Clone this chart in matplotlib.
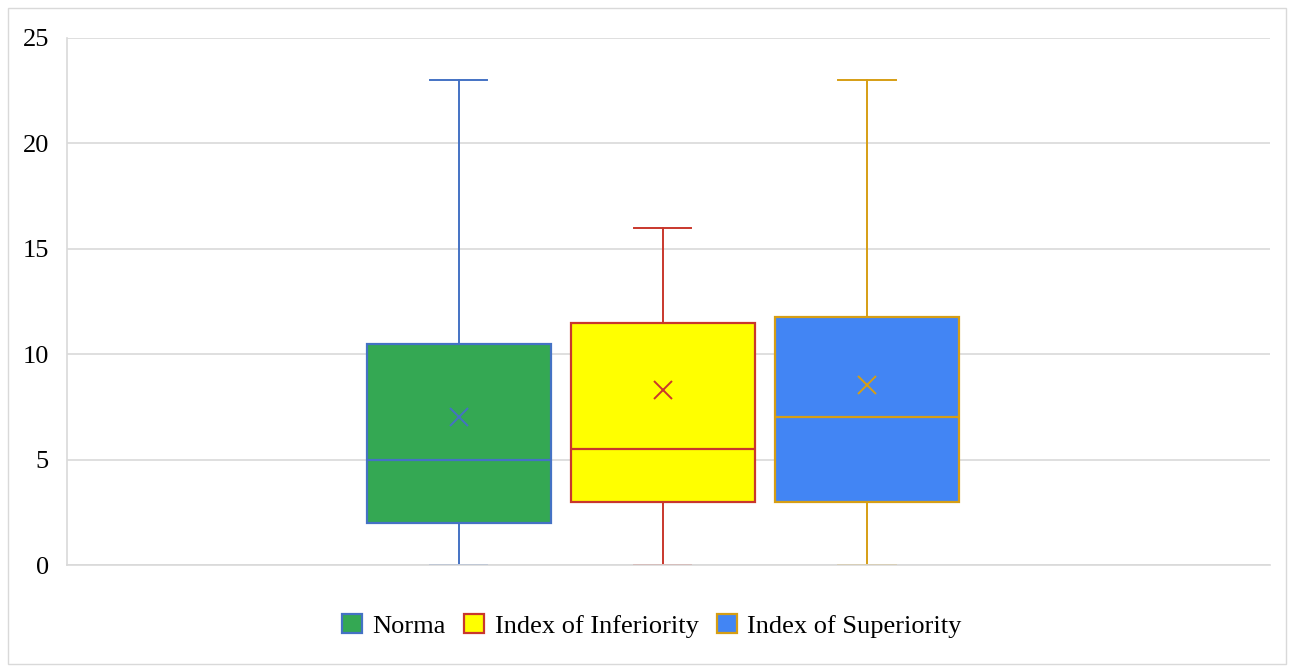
import matplotlib
matplotlib.use("Agg")
import matplotlib.pyplot as plt
from matplotlib.patches import Rectangle, Patch

plt.rcParams['font.family'] = ['Liberation Serif', 'DejaVu Serif']

# data
series = ['Norma', 'Index of Inferiority', 'Index of Superiority']
mins = [0, 0, 0]
q1s = [2, 3, 3]
medians = [5, 5.5, 7]
q3s = [10.5, 11.5, 11.75]
maxs = [23, 16, 23]
means = [7.0, 8.3, 8.55]

fills = ['#34a853', '#ffff00', '#4285f4']
edges = ['#4472c4', '#c9372c', '#d69e14']

yticks = [0, 5, 10, 15, 20, 25]

fig = plt.figure(figsize=(12.9, 6.68), dpi=100)
fig.patches.append(Rectangle((8 / 1290, 4 / 668), 1278 / 1290, 656 / 668,
                             transform=fig.transFigure, fill=False,
                             edgecolor='#d9d9d9', linewidth=1))
ax = fig.add_axes([67 / 1290, 103 / 668, 1203 / 1290, 527 / 668])

positions = [-1, 0, 1]
for i in range(len(series)):
    st = [dict(label=series[i], whislo=mins[i], q1=q1s[i], med=medians[i],
               q3=q3s[i], whishi=maxs[i], mean=means[i], fliers=[])]
    ax.bxp(st, positions=[positions[i]], widths=0.9, capwidths=0.28,
           patch_artist=True, showmeans=True, manage_ticks=False,
           boxprops=dict(facecolor=fills[i], edgecolor=edges[i], linewidth=1.6),
           medianprops=dict(color=edges[i], linewidth=1.6),
           whiskerprops=dict(color=edges[i], linewidth=1.4),
           capprops=dict(color=edges[i], linewidth=1.4),
           meanprops=dict(marker='x', markeredgecolor=edges[i],
                          markersize=13, markeredgewidth=1.4))

ax.set_xlim(-2.92, 2.975)
ax.set_ylim(0, 25)
ax.set_yticks(yticks)
ax.set_xticks([])
ax.tick_params(axis='y', length=0, labelsize=19, pad=13)
ax.grid(axis='y', color='#d9d9d9', linewidth=1.2)
ax.set_axisbelow(True)
for s in ['top', 'right']:
    ax.spines[s].set_visible(False)
for s in ['left', 'bottom']:
    ax.spines[s].set_color('#d9d9d9')
    ax.spines[s].set_linewidth(1.2)

handles = [Patch(facecolor=fills[i], edgecolor=edges[i], linewidth=1.6,
                 label=series[i]) for i in range(len(series))]
fig.legend(handles=handles, loc='center', bbox_to_anchor=(652 / 1290, 1 - 626 / 668),
           ncol=3, frameon=False, fontsize=19, handlelength=0.75, handleheight=0.75,
           handletextpad=0.4, columnspacing=0.7)

fig.savefig('out.png', dpi=100)
